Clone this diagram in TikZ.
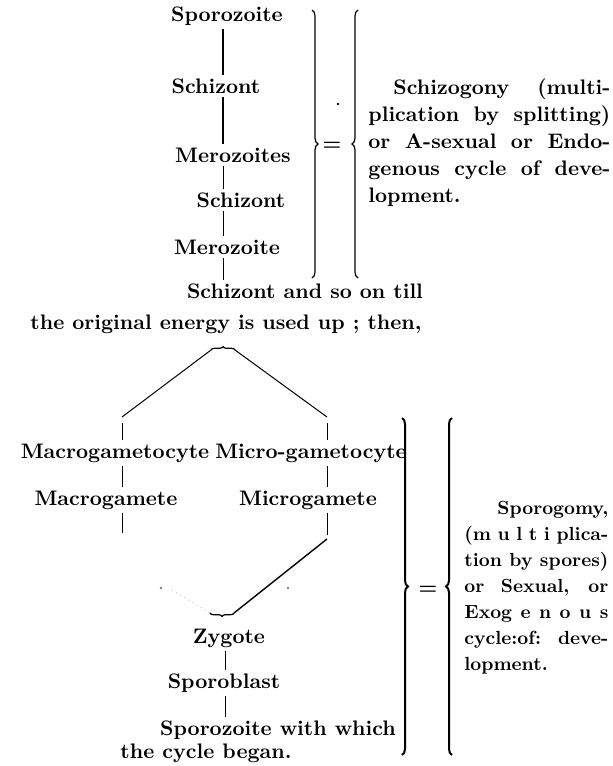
\documentclass[tikz,border=0pt]{standalone}
\usepackage{fontspec}
\usetikzlibrary{decorations.pathreplacing}

\begin{document}
\begin{tikzpicture}[x = 0.5pt, y = 0.5pt,
    every node/.style = {font = \fontsize{10.5}{13.5}\selectfont\bfseries, inner sep = 1.5pt},
    stem/.style = {line width = 0.9pt},
    thinstem/.style = {line width = 0.5pt},
    bigbrace/.style = {decorate, decoration = {brace, amplitude = 3pt}, line width = #1},
    tinybrace/.style = {decorate, decoration = {brace, amplitude = 1.7pt}, line width = 0.6pt},
    cycletext/.style = {inner sep = 0pt, anchor = west, align = justify},
    speck/.style = {fill, circle, inner sep = 0pt, minimum size = 1.3pt}]
    \path[fill = white, use as bounding box] (0,0) rectangle (613,-766);

    % asexual part
    \node (spz) at (227,-16) {Sporozoite};
    \node (schA) at (216,-86) {Schizont};
    \node (merA) at (233,-155) {Merozoites};
    \node (schB) at (241,-200) {Schizont};
    \node (merB) at (227,-247) {Merozoite};
    \node (schC) at (305,-291) {Schizont and so on till};
    \node (energy) at (226,-324) {the original energy is used up ; then,};
    \coordinate (axisA) at (223,0);
    \draw[stem] (spz.south -| axisA) -- (schA.north -| axisA);
    \draw[stem] (schA.south -| axisA) -- (merA.north -| axisA);
    \draw[thinstem] (merA.south -| axisA) -- (schB.north -| axisA);
    \draw[thinstem] (schB.south -| axisA) -- (merB.north -| axisA);
    \draw[thinstem] (merB.south -| axisA) -- (schC.north -| axisA);

    \draw[bigbrace = 0.6pt] (312,-10) -- (312,-278);
    \node (eqA) at (332,-146) {=};
    \draw[bigbrace = 0.6pt] (358,-278) -- (358,-10);
    \node[speck] (speckA) at (338,-104) {};
    \node[cycletext, text width = 121pt] (schizogony) at (368,-143)
        {\hspace*{12.5pt}Schizogony (multi-\linebreak
         plication by splitting)\linebreak
         or A-sexual or Endo-\linebreak
         genous cycle of deve-\linebreak
         lopment.};

    % sexual part
    \coordinate (forkL) at (211,-350);
    \coordinate (forkR) at (235,-350);
    \coordinate (splitL) at (122,-417);
    \coordinate (splitR) at (327,-417);
    \draw[tinybrace] (forkL) -- (forkR);
    \draw[thinstem] (forkL) -- (splitL);
    \draw[thinstem] (forkR) -- (splitR);

    \node (macgc) at (115,-453) {Macrogametocyte};
    \node (micgc) at (311,-453) {Micro-gametocyte};
    \node (macg) at (106,-500) {Macrogamete};
    \node (micg) at (308,-500) {Microgamete};
    \draw[thinstem] ([yshift = -3pt]splitL) -- (macgc.north -| splitL);
    \draw[thinstem] ([yshift = -3pt]splitR) -- (micgc.north -| splitR);
    \draw[thinstem] (macgc.south -| splitL) -- (macg.north -| splitL);
    \draw[thinstem] (micgc.south -| splitR) -- (micg.north -| splitR);
    \coordinate (macgEnd) at (122,-533);
    \coordinate (micgEnd) at (327,-535);
    \draw[thinstem] (macg.south -| splitL) -- (macgEnd);
    \draw[thinstem] (micg.south -| splitR) -- (micgEnd);

    \coordinate (zygL) at (210,-613);
    \coordinate (zygR) at (234,-613);
    \coordinate (fadeTop) at (172,-590);
    \draw[tinybrace] (zygR) -- (zygL);
    \draw[line width = 0.7pt] ([yshift = -2pt]micgEnd) -- (zygR);
    \draw[gray!60, dotted, line width = 0.4pt] (fadeTop) -- (zygL);
    \node[speck, gray] (speckB) at (161,-588) {};
    \node[speck, gray] (speckC) at (288,-588) {};

    \node (zyg) at (229,-638) {Zygote};
    \node (spb) at (224,-683) {Sporoblast};
    \node (spzEnd) at (278,-730) {Sporozoite with which};
    \node (began) at (206,-753) {the cycle began.};
    \coordinate (axisB) at (225,0);
    \draw[thinstem] (zyg.south -| axisB) -- (spb.north -| axisB);
    \draw[thinstem] (spb.south -| axisB) -- (spzEnd.north -| axisB);

    \draw[bigbrace = 1pt] (402,-418) -- (402,-755);
    \node (eqB) at (428,-590) {=};
    \draw[bigbrace = 1pt] (452,-755) -- (452,-418);
    \node[cycletext, text width = 72pt, font = \fontsize{9.5}{13}\selectfont\bfseries] (sporogony) at (464,-588)
        {\hfill Sporogomy,\linebreak
         (m u l t i plica-\linebreak
         tion by spores)\linebreak
         or Sexual, or\linebreak
         Exog e n o u s\linebreak
         cycle:of: deve-\linebreak
         lopment.};
\end{tikzpicture}
\end{document}
